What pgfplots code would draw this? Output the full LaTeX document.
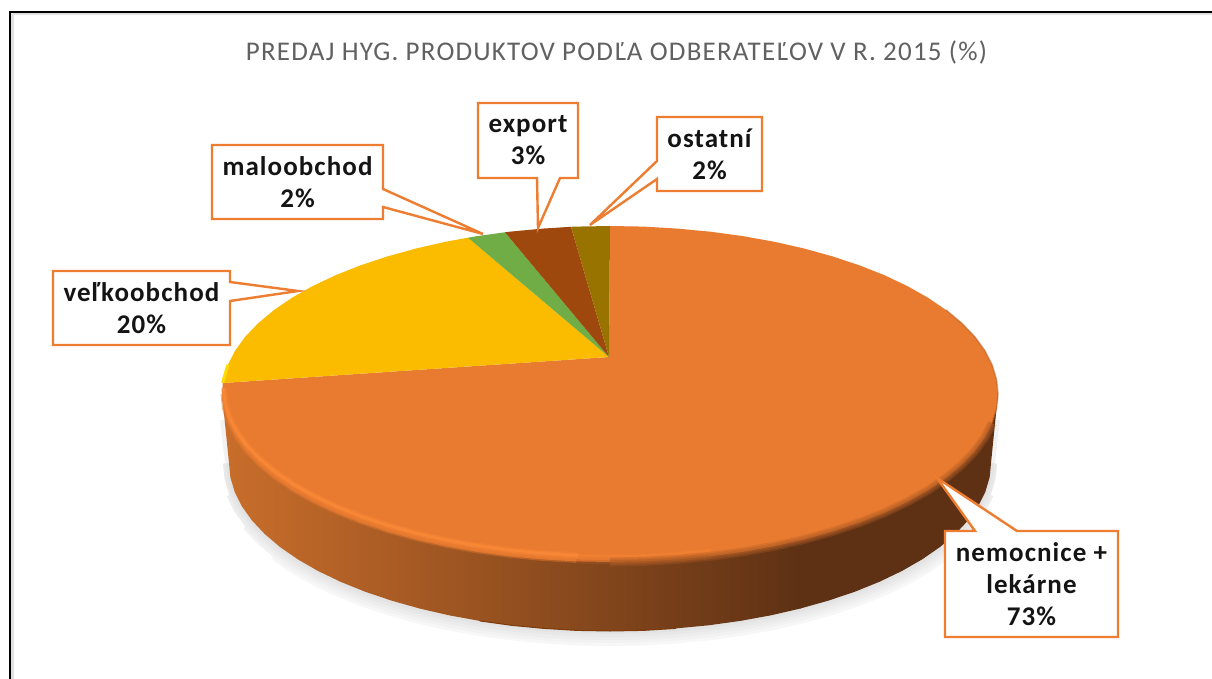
\documentclass[border=0pt]{standalone}
\usepackage{pgfplots}
\pgfplotsset{compat=1.18}
\usepackage{pgfplotstable}
\usepackage{fontspec}
\setmainfont{Carlito}
\definecolor{cOrange}{HTML}{E97B30}
\definecolor{cYellow}{HTML}{FBBC00}
\definecolor{cGreen}{HTML}{70AD47}
\definecolor{cExport}{HTML}{9E480E}
\definecolor{cOther}{HTML}{997300}
\definecolor{cCall}{HTML}{ED7D31}
\definecolor{cDark}{HTML}{5E3114}
\definecolor{cSideL}{HTML}{C96E2B}
\definecolor{cRim}{HTML}{FB8A38}
\tikzset{callout/.style={draw=cCall, fill=white, line width=2.4pt, line join=miter},
  lab/.style={font=\fontsize{27}{32}\selectfont\bfseries\addfontfeatures{LetterSpace=4}, text=black!92, align=center, anchor=center, inner sep=0pt}}
\pgfplotstableread{
x y
229 463
230.4 477.6
234.8 492.2
242 506.5
252 520.5
264.7 534
280 547
297.9 559.4
318.1 571
340.6 581.8
365.1 591.7
391.5 600.6
419.5 608.5
449 615.3
479.7 620.9
511.4 625.3
543.9 628.4
576.8 630.4
610 631
643.2 630.4
676.1 628.4
708.6 625.3
740.3 620.9
771 615.3
800.5 608.5
828.5 600.6
854.9 591.7
879.4 581.8
901.9 571
922.1 559.4
940 547
955.3 534
968 520.5
978 506.5
985.2 492.2
989.6 477.6
991 463
}\bottomarc
\pgfplotstableread{
x y
222 394
223.5 408.6
227.9 423.2
235.2 437.5
245.4 451.5
258.4 465
274 478
292.2 490.4
312.8 502
335.6 512.8
360.6 522.7
387.4 531.6
416 539.5
446 546.3
477.3 551.9
509.6 556.3
542.6 559.4
576.2 561.4
}\rimleft
\pgfplotstableread{
x y
576.2 561.4
610 562
643.8 561.4
677.4 559.4
710.4 556.3
}\rimfade
\pgfplotstableread{
x y
992.1 423.2
984.8 437.5
974.6 451.5
961.6 465
946 478
927.8 490.4
907.2 502
884.4 512.8
859.4 522.7
832.6 531.6
804 539.5
774 546.3
742.7 551.9
710.4 556.3
677.4 559.4
643.8 561.4
610 562
}\rimright
\pgfplotstableread{
x y
946 310
961.6 323
974.6 336.5
984.8 350.5
992.1 364.8
996.5 379.4
998 394
996.5 408.6
992.1 423.2
}\rimupper
\pgfplotstableread{
x y
222.8 383
223.5 379.4
227.9 364.8
}\yellowedge
\begin{document}
\begin{tikzpicture}
\begin{axis}[
  width=1212pt, height=679pt, scale only axis,
  xmin=0, xmax=1212, ymin=0, ymax=679, y dir=reverse,
  axis lines=none, clip=true,
  every axis plot/.append style={no markers},
]
% page extent
\addplot[draw=none, fill=white] coordinates {(0,0) (1212,0) (1212,679) (0,679)} -- cycle;
% frame
\addplot[draw=black!12, line width=2.5pt] coordinates {(12.5,679) (12.5,14) (1212,14)};
\addplot[draw=black, line width=2pt] coordinates {(10,679) (10,12) (1212,12)};
% shadow
\addplot[draw=black!3, line width=30pt, line join=round, skip coords between index={0}{6}, skip coords between index={31}{37}] table {\bottomarc};
\addplot[draw=black!5, line width=24pt, line join=round, skip coords between index={0}{4}, skip coords between index={33}{37}] table {\bottomarc};
\addplot[draw=black!7, line width=18pt, line join=round, skip coords between index={0}{2}, skip coords between index={35}{37}] table {\bottomarc};
\addplot[draw=black!9, line width=12pt, line join=round] table {\bottomarc};
\addplot[draw=black!5, line width=8pt] coordinates {(224,420) (229,463)};
\addplot[draw=black!5, line width=8pt] coordinates {(996,420) (991,463)};
\addplot[draw=black!11, line width=6pt, line join=round] table {\bottomarc};
% side wall: shaded left part
\addplot[draw=none, left color=cSideL, right color=cDark] coordinates {
(222,394) (229,463) (230.4,477.6) (234.8,492.2) (242,506.5) (252,520.5) (264.7,534) (280,547) (297.9,559.4) (318.1,571) (340.6,581.8) (365.1,591.7) (391.5,600.6) (419.5,608.5) (449,615.3) (479.7,620.9) (511.4,625.3) (543.9,628.4) (576.8,630.4) (610,631) (643.2,630.4) (676.1,628.4) (708.6,625.3) (740.3,620.9) (771,615.3) (800.5,608.5) (800.5,394)
} -- cycle;
% side wall: dark right part
\addplot[draw=none, fill=cDark] coordinates {
(800,394) (800,608.6) (828.5,600.6) (854.9,591.7) (879.4,581.8) (901.9,571) (922.1,559.4) (940,547) (955.3,534) (968,520.5) (978,506.5) (985.2,492.2) (989.6,477.6) (991,463) (998,394)
} -- cycle;
\addplot[draw=cExport!80!black, line width=1pt] coordinates {(479.7,620.9) (511.4,625.3) (543.9,628.4) (576.8,630.4) (610,631) (643.2,630.4) (676.1,628.4)};
% nemocnice + lekarne 73
\addplot[draw=none, fill=cOrange] coordinates {
(609,357) (610,226) (643.8,226.6) (677.4,228.6) (710.4,231.7) (742.7,236.1) (774,241.7) (804,248.5) (832.6,256.4) (859.4,265.3) (884.4,275.2) (907.2,286) (927.8,297.6) (946,310) (961.6,323) (974.6,336.5) (984.8,350.5) (992.1,364.8) (996.5,379.4) (998,394)
(996.5,408.6) (992.1,423.2) (984.8,437.5) (974.6,451.5) (961.6,465) (946,478) (927.8,490.4) (907.2,502) (884.4,512.8) (859.4,522.7) (832.6,531.6) (804,539.5) (774,546.3) (742.7,551.9) (710.4,556.3) (677.4,559.4) (643.8,561.4) (610,562)
(576.2,561.4) (542.6,559.4) (509.6,556.3) (477.3,551.9) (446,546.3) (416,539.5) (387.4,531.6) (360.6,522.7) (335.6,512.8) (312.8,502) (292.2,490.4) (274,478) (258.4,465) (245.4,451.5) (235.2,437.5) (227.9,423.2) (223.5,408.6) (222,394) (222.8,383)
} -- cycle;
% velkoobchod 20
\addplot[draw=none, fill=cYellow] coordinates {
(609,357) (222.8,383) (223.5,379.4) (227.9,364.8) (235.2,350.5) (245.4,336.5) (258.4,323) (274,310) (292.2,297.6) (312.8,286) (335.6,275.2) (360.6,265.3) (387.4,256.4) (416,248.5) (446,241.7) (468,237.7)
} -- cycle;
% maloobchod 2
\addplot[draw=none, fill=cGreen] coordinates {(609,357) (468,237.7) (477.3,236.1) (505,232.3)} -- cycle;
% export 3
\addplot[draw=none, fill=cExport] coordinates {(609,357) (505,232.3) (509.6,231.7) (542.6,228.6) (571,226.8)} -- cycle;
% ostatni 2
\addplot[draw=none, fill=cOther] coordinates {(609,357) (571,226.8) (576.2,226.6) (610,226)} -- cycle;
% rim shading
\addplot[draw=cOrange!60!cDark, line width=9pt, line join=round, opacity=.3] table {\rimright};
\addplot[draw=cOrange!60!cDark, line width=6pt, line join=round, opacity=.35] table {\rimright};
\addplot[draw=cOrange!60!cDark, line width=3pt, line join=round, opacity=.4] table {\rimright};
\addplot[draw=cOrange!60!cDark, line width=1.5pt, line join=round, opacity=.5] table {\rimupper};
\addplot[draw=cOrange!60!cDark, line width=4pt, line join=round, opacity=.35] table {\rimfade};
\addplot[draw=cOrange!60!cSideL, line width=3pt, line join=round, opacity=.5] table {\rimleft};
\addplot[draw=cRim, line width=6pt, line join=round, xshift=2pt, yshift=6pt, opacity=.3] table {\rimleft};
\addplot[draw=cRim, line width=4pt, line join=round, xshift=1.5pt, yshift=6pt, opacity=.45] table {\rimleft};
\addplot[draw=cRim, line width=2pt, line join=round, xshift=1.5pt, yshift=6pt, opacity=.7] table {\rimleft};
\addplot[draw=cRim, line width=2.5pt, line join=round, yshift=6pt, opacity=.35] table {\rimfade};
\addplot[draw=yellow!60!cYellow, line width=3pt] table {\yellowedge};
% callouts
\addplot[callout] coordinates {(212,145) (383,145) (383,189) (483,234) (383,207) (383,219) (212,219)} -- cycle;
\addplot[callout] coordinates {(53,271) (230,271) (230,282) (298,291) (230,301) (230,345) (53,345)} -- cycle;
\addplot[callout] coordinates {(478,103) (578,103) (578,178) (560,178) (538,228) (537,178) (478,178)} -- cycle;
\addplot[callout] coordinates {(657,117) (762,117) (762,191) (657,191) (657,179) (590,225) (657,161)} -- cycle;
\addplot[callout] coordinates {(945,531) (975,531) (937,478) (1017,531) (1118,531) (1118,637) (945,637)} -- cycle;
% texts
\node[lab] at (axis cs:297.5,182) {maloobchod\\2\%};
\node[lab] at (axis cs:141.5,308) {veľkoobchod\\20\%};
\node[lab] at (axis cs:528,140.5) {export\\3\%};
\node[lab] at (axis cs:709.5,154) {ostatní\\2\%};
\node[lab] at (axis cs:1031.5,584) {nemocnice +\\lekárne\\73\%};
\node[font=\fontsize{27}{30}\selectfont\addfontfeatures{LetterSpace=4.5}, text=black!62, anchor=center, inner sep=0pt] at (axis cs:616.5,53) {PREDAJ HYG. PRODUKTOV PODĽA ODBERATEĽOV V R. 2015 (\%)};
\end{axis}
\end{tikzpicture}
\end{document}
